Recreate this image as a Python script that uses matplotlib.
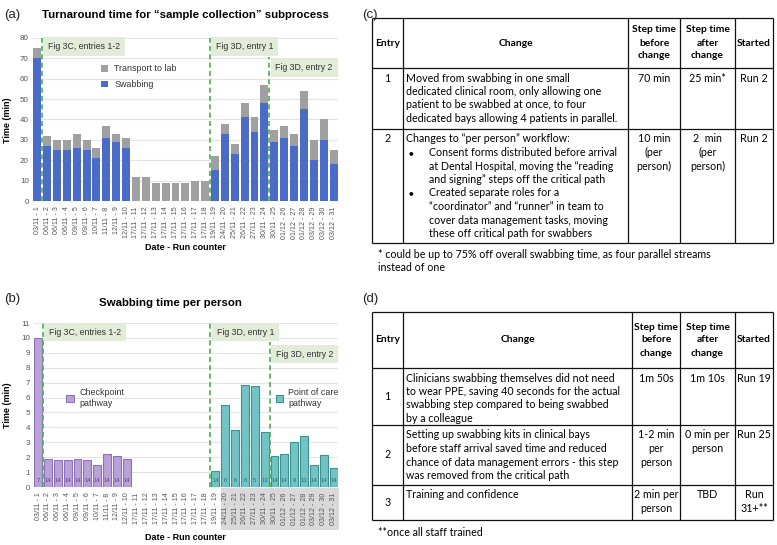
import matplotlib.pyplot as plt
import matplotlib.transforms as mtransforms
from matplotlib.patches import Rectangle
import numpy as np

W, H = 777, 545

# ---- data ----
run_labels = ['03/11 - 1', '06/11 - 2', '06/11 - 3', '06/11 - 4', '09/11 - 5', '09/11 - 6',
              '10/11 - 7', '11/11 - 8', '12/11 - 9', '12/11 - 10', '17/11 - 11', '17/11 - 12',
              '17/11 - 13', '17/11 - 14', '17/11 - 15', '17/11 - 16', '17/11 - 17', '17/11 - 18',
              '19/11 - 19', '24/11 - 20', '25/11 - 21', '26/11 - 22', '27/11 - 23', '30/11 - 24',
              '30/11 - 25', '01/12 - 26', '01/12 - 27', '01/12 - 28', '03/12 - 29', '03/12 - 30',
              '03/12 - 31']
swabbing = [70, 27, 25, 25, 26, 25, 21, 31, 29, 26, 0, 0, 0, 0, 0, 0, 0, 0,
            15, 33, 23, 41, 34, 48, 29, 31, 27, 45, 20, 30, 18]
transport = [5, 5, 5, 5, 7, 5, 5, 6, 4, 5, 12, 12, 9, 9, 9, 9, 10, 10,
             7, 5, 5, 7, 7, 9, 6, 6, 6, 9, 10, 10, 7]

checkpoint_runs = list(range(0, 10))
checkpoint_time = [10, 1.9, 1.8, 1.8, 1.85, 1.8, 1.5, 2.2, 2.05, 1.85]
checkpoint_n = [7, 14, 14, 14, 14, 14, 14, 14, 14, 14]
poc_runs = list(range(18, 31))
poc_time = [1.05, 5.5, 3.8, 6.85, 6.8, 3.7, 2.05, 2.2, 3.0, 3.45, 1.45, 2.15, 1.3]
poc_n = [14, 6, 6, 6, 5, 13, 14, 14, 9, 13, 14, 14, 14]

change_lines = [0.5, 17.5, 23.5]
change_notes = ['Fig 3C, entries 1-2', 'Fig 3D, entry 1', 'Fig 3D, entry 2']

table_header = ['Entry', 'Change', 'Step time\nbefore\nchange', 'Step time\nafter\nchange', 'Started']
table_c = [
    ['1', 'Moved from swabbing in one small\ndedicated clinical room, only allowing one\n'
          'patient to be swabbed at once, to four\ndedicated bays allowing 4 patients in parallel.',
     '70 min', '25 min*', 'Run 2'],
    ['2', 'Changes to \u201cper person\u201d workflow:\n'
          '\u25cf\tConsent forms distributed before arrival\n\tat Dental Hospital, moving the \u201creading\n'
          '\tand signing\u201d steps off the critical path\n'
          '\u25cf\tCreated separate roles for a\n\t\u201ccoordinator\u201d and \u201crunner\u201d in team to\n'
          '\tcover data management tasks, moving\n\tthese off critical path for swabbers',
     '10 min\n(per\nperson)', '2  min\n(per\nperson)', 'Run 2'],
]
note_c = '* could be up to 75% off overall swabbing time, as four parallel streams\ninstead of one'
table_d = [
    ['1', 'Clinicians swabbing themselves did not need\nto wear PPE, saving 40 seconds for the actual\n'
          'swabbing step compared to being swabbed\nby a colleague',
     '1m 50s', '1m 10s', 'Run 19'],
    ['2', 'Setting up swabbing kits in clinical bays\nbefore staff arrival saved time and reduced\n'
          'chance of data management errors - this step\nwas removed from the critical path',
     '1-2 min\nper\nperson', '0 min per\nperson', 'Run 25'],
    ['3', 'Training and confidence', '2 min per\nperson', 'TBD', 'Run\n31+**'],
]
note_d = '**once all staff trained'

BLUE = '#4a6bc6'
GREY = '#a0a0a0'
PURPLE = '#b8a2d8'
PURPLE_EDGE = '#8c72b8'
TEAL = '#72c4c4'
TEAL_EDGE = '#3f9090'
GREEN = '#4caf50'
NOTE_BG = '#e3ecd8'
TXT = '#333333'

plt.rcParams['font.family'] = ['Liberation Sans', 'DejaVu Sans']

fig = plt.figure(figsize=(W / 100, H / 100), dpi=100)


def px_axes(x0, y0, x1, y1):
    return fig.add_axes([x0 / W, 1 - y1 / H, (x1 - x0) / W, (y1 - y0) / H])


def style_axes(ax, ymax, step):
    x = np.arange(len(run_labels))
    ax.set_xlim(-0.42, 30.45)
    ax.set_ylim(0, ymax)
    ax.set_yticks(np.arange(0, ymax + 0.1, step))
    ax.set_xticks(x, run_labels, rotation=90)
    ax.grid(axis='y', color='#e4e4e4', lw=0.8, zorder=0)
    ax.set_axisbelow(True)
    for s in ax.spines.values():
        s.set_visible(False)
    ax.tick_params(length=0, colors='#555555', pad=3)
    ax.tick_params(axis='x', labelsize=5.1, pad=4)
    ax.tick_params(axis='y', labelsize=5.8)
    trans = mtransforms.blended_transform_factory(ax.transData, ax.transAxes)
    return trans


def add_change_marks(ax, trans, ys, tops):
    for xv, note, yv, top in zip(change_lines, change_notes, ys, tops):
        ax.axvline(xv, ymax=top, color=GREEN, ls=(0, (3, 2)), lw=1.2, zorder=3)
        ax.text(xv + 0.62, yv, note, transform=trans, fontsize=6.3, color=TXT,
                va='center', ha='left', zorder=4,
                bbox=dict(boxstyle='square,pad=0.55', fc=NOTE_BG, ec='none'))


# ---- (a) turnaround time ----
ax = px_axes(33, 38, 338, 201)
x = np.arange(len(run_labels))
b_swab = ax.bar(x, swabbing, 0.8, color=BLUE, zorder=2, label='Swabbing')
b_tr = ax.bar(x, transport, 0.8, bottom=swabbing, color=GREY, zorder=2, label='Transport to lab')
trans = style_axes(ax, 80, 10)
add_change_marks(ax, trans, [0.948, 0.948, 0.82], [1, 1, 0.885])
ax.legend(handles=[b_tr, b_swab], loc='upper left', bbox_to_anchor=(0.21, 0.865),
          frameon=False, fontsize=6.4, handlelength=0.75, handleheight=0.75,
          handletextpad=0.7, labelspacing=0.75, borderpad=0, labelcolor=TXT)

# ---- (b) swabbing time per person ----
bx = px_axes(34, 323, 338, 487)
b_cp = bx.bar(checkpoint_runs, checkpoint_time, 0.8, color=PURPLE, edgecolor=PURPLE_EDGE,
              lw=0.8, zorder=2, label='Checkpoint\npathway')
b_poc = bx.bar(poc_runs, poc_time, 0.8, color=TEAL, edgecolor=TEAL_EDGE,
               lw=0.8, zorder=2, label='Point of care\npathway')
trans_b = style_axes(bx, 11, 1)
add_change_marks(bx, trans_b, [0.945, 0.945, 0.81], [1, 1, 0.885])
for xi, n in zip(checkpoint_runs, checkpoint_n):
    bx.text(xi, 0.45, str(n), ha='center', va='center', fontsize=4.2, color='#5b3f8c', zorder=4)
for xi, n in zip(poc_runs, poc_n):
    bx.text(xi, 0.45, str(n), ha='center', va='center', fontsize=4.2, color='#2b6b6b', zorder=4)
bx.add_patch(Rectangle((18.55, -0.262), 12.0, 0.256, transform=trans_b, clip_on=False,
                       fc='#d9d9d9', ec='none', zorder=0))
leg1 = bx.legend(handles=[b_cp], loc='upper left', bbox_to_anchor=(0.092, 0.63),
                 frameon=False, fontsize=6.4, handlelength=0.85, handleheight=0.85,
                 handletextpad=0.6, borderpad=0, labelcolor=TXT)
bx.add_artist(leg1)
bx.legend(handles=[b_poc], loc='upper left', bbox_to_anchor=(0.78, 0.63),
          frameon=False, fontsize=6.4, handlelength=0.85, handleheight=0.85,
          handletextpad=0.6, borderpad=0, labelcolor=TXT)

# ---- overlay in pixel coordinates: titles, labels, tables ----
ov = fig.add_axes([0, 0, 1, 1], zorder=5)
ov.set_xlim(0, W)
ov.set_ylim(H, 0)
ov.axis('off')

for lab, px, py in [('(a)', 4, 15), ('(b)', 4, 299), ('(c)', 362, 15), ('(d)', 362, 299)]:
    ov.text(px, py, lab, fontsize=9.5, ha='left', va='center', color='#222222')
ov.text(185, 15, 'Turnaround time for \u201csample collection\u201d subprocess',
        fontsize=8.2, weight='bold', ha='center', va='center')
ov.text(170, 303, 'Swabbing time per person', fontsize=8.2, weight='bold', ha='center', va='center')
for yc in [120, 405]:
    ov.text(8, yc, 'Time (min)', rotation=90, fontsize=6.5, weight='bold', ha='center', va='center')
for yc in [248, 537]:
    ov.text(185, yc, 'Date - Run counter', fontsize=6.5, weight='bold', ha='center', va='center')

TFONT = ['Lato', 'DejaVu Sans']
TSIZE = 7.7
HSIZE = 7.4
LINE = 13.5


def draw_table(cols, rows, body, note, note_y, entry_top):
    lw = 0.9
    for xc in cols:
        ov.vlines(xc, rows[0], rows[-1], color='#111111', lw=lw)
    for yr in rows:
        ov.hlines(yr, cols[0], cols[-1], color='#111111', lw=lw)
    # header
    yc = (rows[0] + rows[1]) / 2
    for j, h in enumerate(table_header):
        lines = h.split('\n')
        for k, ln in enumerate(lines):
            yy = yc + (k - (len(lines) - 1) / 2) * 13.0
            ov.text((cols[j] + cols[j + 1]) / 2, yy, ln, family=TFONT, fontsize=HSIZE,
                    weight='bold', ha='center', va='center')
    # body
    for i, row in enumerate(body):
        top = rows[i + 1]
        bot = rows[i + 2]
        for j, cell in enumerate(row):
            lines = cell.split('\n')
            if j == 0:
                ye = top + 10 if entry_top else (top + bot) / 2
                ov.text((cols[0] + cols[1]) / 2, ye, cell, family=TFONT,
                        fontsize=TSIZE, ha='center', va='center')
                continue
            for k, ln in enumerate(lines):
                yy = top + 10 + k * LINE
                if j == 1:
                    xx = cols[1] + 3
                    if ln.startswith('\u25cf\t'):
                        ov.text(xx + 3, yy, '\u25cf', family=TFONT, fontsize=TSIZE - 2,
                                ha='left', va='center')
                        ln = ln[2:]
                        xx = cols[1] + 26
                    elif ln.startswith('\t'):
                        ln = ln[1:]
                        xx = cols[1] + 26
                    ov.text(xx, yy, ln, family=TFONT, fontsize=TSIZE, ha='left', va='center')
                else:
                    ov.text((cols[j] + cols[j + 1]) / 2, yy, ln, family=TFONT,
                            fontsize=TSIZE, ha='center', va='center')
    for k, ln in enumerate(note.split('\n')):
        ov.text(cols[0] + 6, note_y + k * LINE, ln, family=TFONT, fontsize=TSIZE,
                ha='left', va='center')


draw_table([372, 403, 628, 680, 735, 773], [18, 68, 129, 243], table_c, note_c, 254, True)
draw_table([372, 403, 632, 680, 735, 773], [312, 368, 425, 485, 520], table_d, note_d, 533, False)

fig.savefig('out.png', dpi=100)
